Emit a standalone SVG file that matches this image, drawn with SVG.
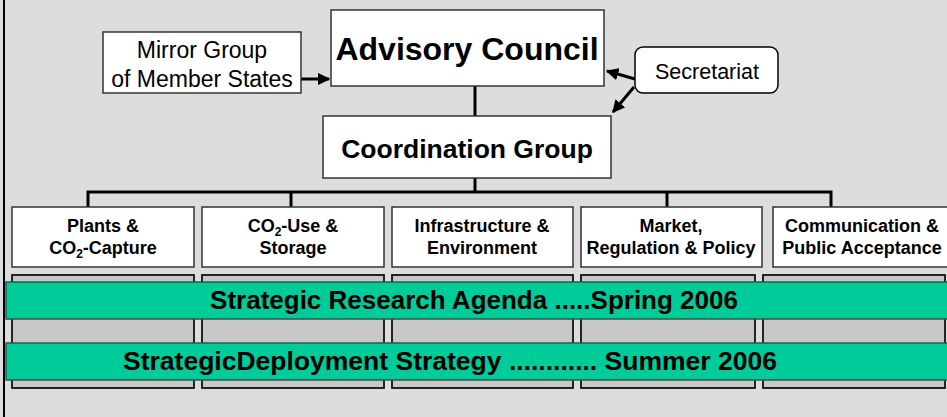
<svg xmlns="http://www.w3.org/2000/svg" width="947" height="417" viewBox="0 0 947 417">
<defs>
<style>
text{font-family:"Liberation Sans",Arial,sans-serif;fill:#000}
.box{fill:#fff;stroke:#333;stroke-width:1.5}
.col{fill:#c8c8c8;stroke:#111;stroke-width:1.8}
.bar{fill:#00cc99;stroke:#2a5a4a;stroke-width:1.5}
.conn{fill:none;stroke:#000;stroke-width:3}
.hdr{font-size:18px;font-weight:bold;text-anchor:middle}
.big{font-size:26px;font-weight:bold;text-anchor:middle}
.reg{font-size:23px;text-anchor:middle}
</style>
<marker id="ah" viewBox="0 0 10 10" refX="9" refY="5" markerWidth="4.2" markerHeight="4.2" orient="auto" markerUnits="strokeWidth">
<path d="M0,0 L10,5 L0,10 z" fill="#000"/>
</marker>
</defs>
<rect x="0" y="0" width="947" height="417" fill="#dddddd"/>
<line x1="4" y1="0" x2="4" y2="417" stroke="#000" stroke-width="2"/>

<g id="columns">
<rect class="col" x="12" y="275" width="182" height="113"/>
<rect class="col" x="202" y="275" width="182" height="113"/>
<rect class="col" x="392" y="275" width="181" height="113"/>
<rect class="col" x="581" y="275" width="174" height="113"/>
<rect class="col" x="763" y="275" width="182" height="113"/>
</g>

<g id="connectors">
<line class="conn" x1="475" y1="86" x2="475" y2="116"/>
<polyline class="conn" points="88,207 88,192 831,192 831,207"/>
<line class="conn" x1="475" y1="178" x2="475" y2="192"/>
<line class="conn" x1="291" y1="192" x2="291" y2="207"/>
<line class="conn" x1="667" y1="192" x2="667" y2="207"/>
<line class="conn" x1="301" y1="79" x2="329" y2="79" marker-end="url(#ah)"/>
<line class="conn" x1="635" y1="79" x2="607" y2="71" marker-end="url(#ah)"/>
<line class="conn" x1="634" y1="87" x2="613" y2="112" marker-end="url(#ah)"/>
</g>

<g id="mirror">
<rect class="box" x="103" y="32" width="198" height="61"/>
<text class="reg" x="202" y="58">Mirror Group</text>
<text class="reg" x="202" y="87">of Member States</text>
</g>

<g id="advisory">
<rect class="box" x="331" y="10" width="273" height="76"/>
<text x="467" y="60" font-size="32" font-weight="bold" text-anchor="middle">Advisory Council</text>
</g>

<g id="secretariat">
<rect x="635" y="47" width="143" height="46" rx="8" fill="#fff" stroke="#000" stroke-width="1.5"/>
<text x="707" y="79" font-size="21.5" text-anchor="middle">Secretariat</text>
</g>

<g id="coordination">
<rect class="box" x="323" y="116" width="288" height="62"/>
<text x="467" y="158" font-size="26.5" font-weight="bold" text-anchor="middle">Coordination Group</text>
</g>

<g id="plants">
<rect class="box" x="12" y="207" width="182" height="60"/>
<text class="hdr" x="103" y="232">Plants &amp;</text>
<text class="hdr" x="103" y="254">CO<tspan font-size="12" dy="4">2</tspan><tspan dy="-4">-Capture</tspan></text>
</g>

<g id="co2use">
<rect class="box" x="202" y="207" width="182" height="60"/>
<text class="hdr" x="293" y="232">CO<tspan font-size="12" dy="4">2</tspan><tspan dy="-4">-Use &amp;</tspan></text>
<text class="hdr" x="293" y="254">Storage</text>
</g>

<g id="infrastructure">
<rect class="box" x="392" y="207" width="181" height="60"/>
<text class="hdr" x="482" y="232">Infrastructure &amp;</text>
<text class="hdr" x="482" y="254">Environment</text>
</g>

<g id="market">
<rect class="box" x="581" y="207" width="181" height="60"/>
<text class="hdr" x="671" y="232">Market,</text>
<text class="hdr" x="671" y="254">Regulation &amp; Policy</text>
</g>

<g id="communication">
<rect class="box" x="773" y="207" width="180" height="60"/>
<text class="hdr" x="862" y="232">Communication &amp;</text>
<text class="hdr" x="862" y="254">Public Acceptance</text>
</g>

<g id="sra">
<rect class="bar" x="6" y="282" width="950" height="37"/>
<text class="big" x="474" y="309">Strategic Research Agenda .....Spring 2006</text>
</g>

<g id="sds">
<rect class="bar" x="6" y="343" width="950" height="37"/>
<text class="big" x="450" y="370" style="font-size:26.5px">StrategicDeployment Strategy ............ Summer 2006</text>
</g>
</svg>
